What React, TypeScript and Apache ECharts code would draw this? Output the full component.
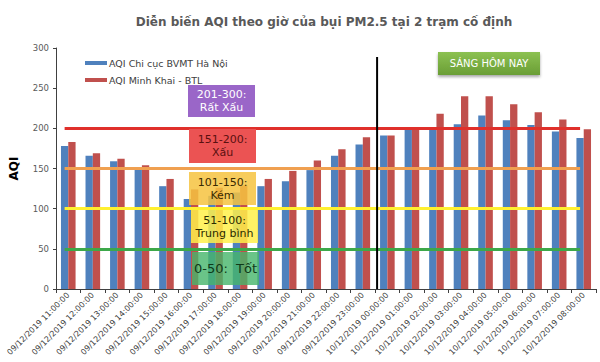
import React, { useEffect, useRef } from "react";
import * as echarts from "echarts";

const categories = [
  "09/12/2019 11:00:00", "09/12/2019 12:00:00", "09/12/2019 13:00:00", "09/12/2019 14:00:00",
  "09/12/2019 15:00:00", "09/12/2019 16:00:00", "09/12/2019 17:00:00", "09/12/2019 18:00:00",
  "09/12/2019 19:00:00", "09/12/2019 20:00:00", "09/12/2019 21:00:00", "09/12/2019 22:00:00",
  "09/12/2019 23:00:00", "10/12/2019 00:00:00", "10/12/2019 01:00:00", "10/12/2019 02:00:00",
  "10/12/2019 03:00:00", "10/12/2019 04:00:00", "10/12/2019 05:00:00", "10/12/2019 06:00:00",
  "10/12/2019 07:00:00", "10/12/2019 08:00:00",
];
const seriesNames = ["AQI Chi cục BVMT Hà Nội", "AQI Minh Khai - BTL"];
const hanoiValues = [178, 166, 159, 149, 128, 112, 116, 120, 128, 134, 148, 166, 180, 191, 199, 199, 205, 216, 210, 204, 196, 188];
const minhKhaiValues = [183, 169, 162, 154, 137, 124, 126, 129, 137, 147, 160, 174, 189, 191, 200, 218, 240, 240, 230, 220, 211, 199];
const thresholds = [200, 150, 100, 50];
const thresholdColors = ["#E0302B", "#F0A050", "#FFF030", "#3DA84A"];
const bands = [
  { label: "201-300:\nRất Xấu", fill: "#9A66C8", text: "#FFFFFF", opacity: 1 },
  { label: "151-200:\nXấu", fill: "#EB5353", text: "#5A1010", opacity: 1 },
  { label: "101-150:\nKém", fill: "#F6C340", text: "#3A2A00", opacity: 0.85 },
  { label: "51-100:\nTrung bình", fill: "#FFF04A", text: "#2A2A00", opacity: 0.85 },
  { label: "0-50:  Tốt", fill: "#45B56A", text: "#0F3A18", opacity: 0.8 },
];
const yTicks = { min: 0, max: 300, interval: 50 };

const FONT = "DejaVu Sans";

export default function App() {
  const ref = useRef<HTMLDivElement>(null);
  useEffect(() => {
    if (!ref.current) return;
    const chart = echarts.init(ref.current, null, { renderer: "svg" });
    const markLineData = thresholds.map((v, i) => [
      { coord: [0, v], lineStyle: { color: thresholdColors[i], width: 3, type: "solid" } },
      { coord: [categories.length - 1, v] },
    ]);
    chart.setOption({
      animation: false,
      backgroundColor: "#FFFFFF",
      title: {
        text: "Diễn biến AQI theo giờ của bụi PM2.5 tại 2 trạm cố định",
        left: 319,
        textAlign: "center",
        top: 11,
        textStyle: { fontFamily: FONT, fontSize: 12, fontWeight: "bold", color: "#595959" },
      },
      legend: {
        data: seriesNames,
        orient: "vertical",
        left: 80,
        top: 53,
        itemWidth: 22,
        itemHeight: 4,
        itemGap: 7,
        icon: "rect",
        textStyle: { fontFamily: FONT, fontSize: 9.5, color: "#404040", padding: [0, 0, 0, -3] },
      },
      grid: { left: 54, right: 4, top: 48, bottom: 73, containLabel: false },
      xAxis: {
        type: "category",
        data: categories,
        axisLine: { lineStyle: { color: "#404040", width: 1 } },
        axisTick: { show: true, length: 4, lineStyle: { color: "#404040" } },
        axisLabel: { interval: 0, rotate: 45, fontFamily: FONT, fontSize: 8, color: "#404040", margin: 5 },
      },
      yAxis: {
        type: "value",
        min: yTicks.min,
        max: yTicks.max,
        interval: yTicks.interval,
        name: "AQI",
        nameLocation: "middle",
        nameRotate: 90,
        nameGap: 36,
        nameTextStyle: { fontFamily: FONT, fontSize: 12, fontWeight: "bold", color: "#000000" },
        axisLine: { show: true, lineStyle: { color: "#404040", width: 1 } },
        axisTick: { show: true, length: 3, lineStyle: { color: "#404040" } },
        splitLine: { show: false },
        axisLabel: { fontFamily: FONT, fontSize: 8.5, color: "#595959", margin: 7 },
      },
      series: [
        {
          name: seriesNames[0],
          type: "bar",
          data: hanoiValues,
          barWidth: 7.3,
          barGap: "0%",
          itemStyle: { color: "#4F81BD" },
          z: 2,
          markLine: {
            silent: true,
            symbol: ["none", "none"],
            label: { show: false },
            data: markLineData,
            z: 3,
          },
        },
        {
          name: seriesNames[1],
          type: "bar",
          data: minhKhaiValues,
          barWidth: 7.3,
          barGap: "0%",
          itemStyle: { color: "#C0504D" },
          z: 2,
        },
      ],
    });

    const pa = chart.convertToPixel({ xAxisIndex: 0 }, categories[12]) as number;
    const pb = chart.convertToPixel({ xAxisIndex: 0 }, categories[13]) as number;
    const vx = (pa + pb) / 2 + 2;
    const y0 = chart.convertToPixel({ yAxisIndex: 0 }, 0) as number;

    const boxTops = [85, 129, 172, 210, 252];
    const boxLefts = [188, 189, 189, 191, 192];
    const boxH = [32, 34, 33, 33, 33];
    const elements: any[] = [];
    bands.forEach((b, i) => {
      elements.push({
        type: "rect",
        z: 100,
        shape: { x: boxLefts[i], y: boxTops[i], width: 67, height: boxH[i] },
        style: { fill: b.fill, opacity: b.opacity },
      });
      elements.push({
        type: "text",
        z: 101,
        x: boxLefts[i] + 33.5,
        y: boxTops[i] + boxH[i] / 2,
        style: {
          text: b.label,
          fill: b.text,
          font: `${i === 4 ? 13 : 11}px '${FONT}'`,
          align: "center",
          verticalAlign: "middle",
          lineHeight: 13,
        },
      });
    });
    elements.push({
      type: "line",
      z: 90,
      shape: { x1: vx, y1: 57, x2: vx, y2: y0 },
      style: { stroke: "#000000", lineWidth: 2 },
    });
    elements.push({
      type: "rect",
      z: 100,
      shape: { x: 438, y: 52, width: 102, height: 23 },
      style: {
        fill: new echarts.graphic.LinearGradient(0, 0, 0, 1, [
          { offset: 0, color: "#8CC152" },
          { offset: 1, color: "#6A9E35" },
        ]),
        shadowBlur: 3,
        shadowColor: "rgba(0,0,0,0.35)",
        shadowOffsetY: 2,
      },
    });
    elements.push({
      type: "text",
      z: 101,
      x: 489,
      y: 63.5,
      style: {
        text: "SÁNG HÔM NAY",
        fill: "#FFFFFF",
        font: `10px '${FONT}'`,
        align: "center",
        verticalAlign: "middle",
      },
    });
    chart.setOption({ graphic: { elements } });

    return () => chart.dispose();
  }, []);
  return <div ref={ref} style={{ width: 600, height: 362, position: "absolute", left: 0, top: 0 }} />;
}
